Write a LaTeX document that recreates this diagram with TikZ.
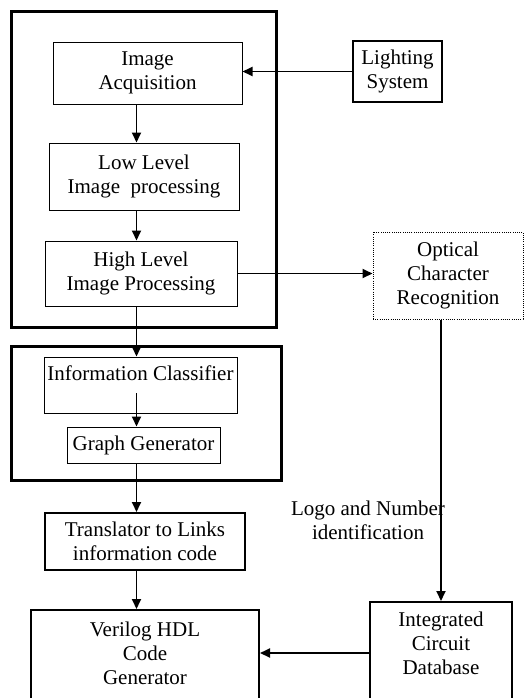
\documentclass[tikz,border=0pt]{standalone}
\usepackage{fontspec}
\setmainfont{Liberation Serif}
\usetikzlibrary{calc}
\usetikzlibrary{positioning}
\usetikzlibrary{arrows.meta}

\begin{document}
\begin{tikzpicture}[x=0.5pt,y=-0.5pt]
      \tikzset{txt/.style={font=\fontsize{10.5}{12}\selectfont, align=center, inner sep=0pt}};
      \tikzset{tblock/.style={txt, draw, line width=0.5pt}};
      \tikzset{mblock/.style={tblock, line width=1pt}};
      \tikzset{frame/.style={draw, line width=1.5pt, inner sep=0pt}};
      \tikzset{flow/.style={line width=0.9pt, -{Triangle[length=5pt,width=4.5pt]}}};
      \useasboundingbox (0,0) rectangle (528,698);

      % vision stage
      \node[frame, minimum width=132.5pt, minimum height=158pt](stageV) at (143.5,169){};
      \node[tblock, minimum width=94.5pt, minimum height=31pt](acq) at (147.5,73){Image\\Acquisition};
      \node[tblock, minimum width=95pt, minimum height=33.5pt](low) at (144,176.5){Low Level\\Image~ processing};
      \node[tblock, minimum width=96pt, minimum height=32.5pt](high) at (141,273.5){High Level\\Image Processing};

      \node[mblock, minimum width=44.5pt, minimum height=30.5pt](light) at (397.5,71.5){Lighting\\System};
      \node[tblock, dash pattern=on 0.5pt off 0.6pt, minimum width=75pt, minimum height=43.5pt](ocr) at (448,275.5){Optical\\Character\\Recognition};

      % graph stage
      \node[frame, minimum width=135pt, minimum height=67pt](stageG) at (146,413){};
      \node[tblock, minimum width=96.5pt, minimum height=28pt](info) at (140.5,385){};
      \node[txt](infoTxt) at (140.5,373){Information Classifier};
      \node[tblock, minimum width=76.5pt, minimum height=18pt](graph) at (143.5,445){Graph Generator};

      \node[mblock, minimum width=100pt, minimum height=28.5pt](trans) at (145,541.5){Translator to Links\\information code};

      \node[mblock, anchor=north, minimum width=114pt, minimum height=50pt](verilog) at (145,609){};
      \node[txt](verilogTxt) at (145,653){Verilog HDL\\Code\\ Generator};
      \node[mblock, anchor=north, minimum width=71pt, minimum height=52pt](icdb) at (441,601){};
      \node[txt](icdbTxt) at (441,643){Integrated\\Circuit\\Database};

      \node[txt](logo) at (368,520.5){Logo and Number\\identification};

      \coordinate (spine) at (136.5,0);
      \coordinate (infoOut) at (136.5,393);

      % main chain
      \draw[flow] (acq.south -| spine) -- (low.north -| spine);
      \draw[flow] (low.south -| spine) -- (high.north -| spine);
      \draw[flow] (high.south -| spine) -- (info.north -| spine);
      \draw[flow] (infoOut) -- (graph.north -| spine);
      \draw[flow] (graph.south -| spine) -- (trans.north -| spine);
      \draw[flow] (trans.south -| spine) -- (verilog.north -| spine);

      % side paths
      \draw[flow] (light.west) -- (light.west -| acq.east);
      \draw[flow] (high.east) -- (high.east -| ocr.west);
      \draw[flow] (ocr.south -| icdb.north) -- (icdb.north);
      \draw[flow] (verilogTxt.center -| icdb.west) -- (verilogTxt.center -| verilog.east);
\end{tikzpicture}
\end{document}
